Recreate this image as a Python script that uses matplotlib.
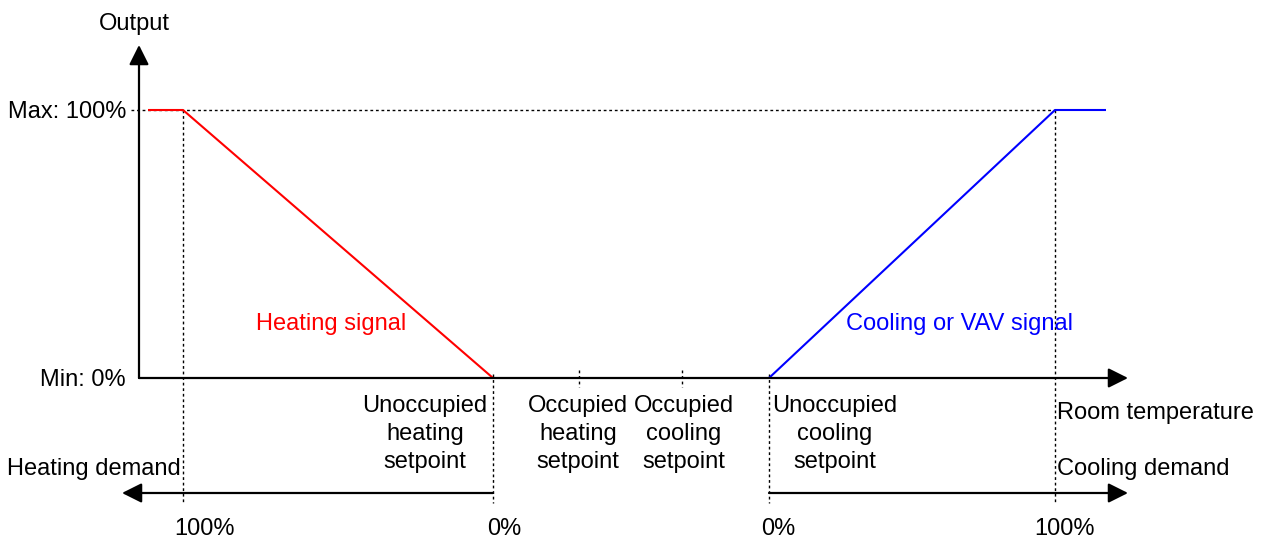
import matplotlib.pyplot as plt

plt.rcParams['font.family'] = ['Liberation Sans', 'DejaVu Sans']

# ---------------- data ----------------
# room temperature positions (arbitrary scale) and output in %
heat_x = [148, 183, 493]
heat_y = [100, 100, 0]
cool_x = [769, 1055, 1106]
cool_y = [0, 100, 100]

setpoint_x = [493, 579, 682, 769]
setpoint_labels = ['Unoccupied\nheating\nsetpoint', 'Occupied\nheating\nsetpoint',
                   'Occupied\ncooling\nsetpoint', 'Unoccupied\ncooling\nsetpoint']
label_x = [425, 578, 684, 835]

full_heat_x = 183
full_cool_x = 1055
demand_x = [205, 504, 778, 1064]
demand_labels = ['100%', '0%', '0%', '100%']


# pixel row -> output %, 0% at row 378, 100% at row 110
def py(row):
    return (378 - row) / 2.68


fig = plt.figure(figsize=(12.67, 5.38), dpi=100)
ax = fig.add_axes([0, 0, 1, 1])
ax.set_xlim(0, 1267)
ax.set_ylim(py(538), py(0))
ax.axis('off')

fs = 17
arrow = dict(arrowstyle='-|>,head_length=0.6,head_width=0.3', mutation_scale=20,
             lw=1.6, color='black', shrinkA=0, shrinkB=0)
dot = dict(color='black', lw=1, linestyle=(0, (2, 2)))

# axes arrows
ax.annotate('', xy=(139, py(45)), xytext=(139, 0), arrowprops=arrow)
ax.annotate('', xy=(1128, 0), xytext=(139, 0), arrowprops=arrow)

# max dotted line
ax.plot([131, full_cool_x], [100, 100], **dot)

# vertical dotted lines
ax.plot([full_heat_x, full_heat_x], [100, py(503)], **dot)
ax.plot([full_cool_x, full_cool_x], [100, py(503)], **dot)
ax.plot([setpoint_x[0], setpoint_x[0]], [py(374), py(503)], **dot)
ax.plot([setpoint_x[3], setpoint_x[3]], [py(374), py(503)], **dot)
for x in setpoint_x[1:3]:
    ax.plot([x, x], [py(370), py(387)], **dot)

# signals
ax.plot(heat_x, heat_y, color='red', lw=1.5, solid_capstyle='butt')
ax.plot(cool_x, cool_y, color='blue', lw=1.5, solid_capstyle='butt')
ax.text(331, py(324), 'Heating signal', color='red', fontsize=fs, ha='center', va='center')
ax.text(960, py(324), 'Cooling or VAV signal', color='blue', fontsize=fs, ha='center', va='center')

# demand arrows
ax.annotate('', xy=(122, py(493)), xytext=(setpoint_x[0], py(493)), arrowprops=arrow)
ax.annotate('', xy=(1128, py(493)), xytext=(setpoint_x[3], py(493)), arrowprops=arrow)

# texts
ax.text(134, py(24), 'Output', fontsize=fs, ha='center', va='center')
ax.text(126, py(112), 'Max: 100%', fontsize=fs, ha='right', va='center')
ax.text(126, py(380), 'Min: 0%', fontsize=fs, ha='right', va='center')
for x, lab in zip(label_x, setpoint_labels):
    ax.text(x, py(434), lab, fontsize=fs, ha='center', va='center', linespacing=1.38)
ax.text(1057, py(413), 'Room temperature', fontsize=fs, ha='left', va='center')
ax.text(1057, py(469), 'Cooling demand', fontsize=fs, ha='left', va='center')
ax.text(7, py(469), 'Heating demand', fontsize=fs, ha='left', va='center')
for x, lab in zip(demand_x, demand_labels):
    ax.text(x, py(529), lab, fontsize=fs, ha='center', va='center')

fig.savefig('out.png', dpi=100)
